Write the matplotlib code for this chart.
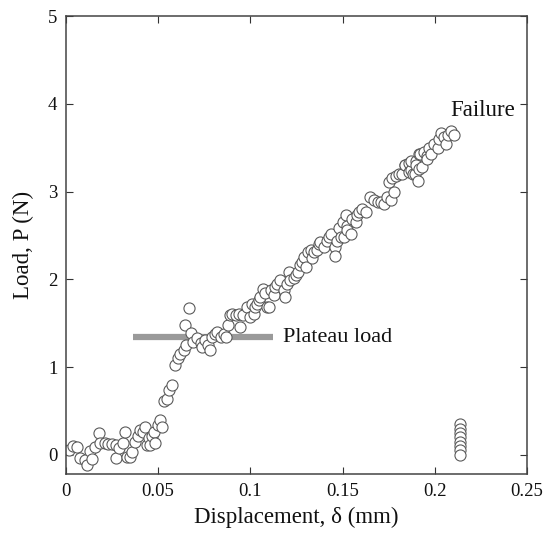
import matplotlib
matplotlib.use("Agg")
import matplotlib.pyplot as plt

plt.rcParams['font.family'] = ['Liberation Serif', 'DejaVu Serif']

disp = [0.0015, 0.004, 0.006, 0.0078, 0.0105, 0.0114, 0.013, 0.014, 0.016, 0.018,
        0.0185, 0.021, 0.023, 0.025, 0.027, 0.027, 0.029, 0.031, 0.032, 0.033,
        0.035, 0.036, 0.0375, 0.039, 0.040, 0.042, 0.043, 0.044, 0.045, 0.0458,
        0.0467, 0.0476, 0.0485, 0.050, 0.051, 0.052, 0.053, 0.055, 0.056, 0.0576,
        0.059, 0.061, 0.062, 0.064, 0.065, 0.0647, 0.0665, 0.068, 0.069, 0.071,
        0.073, 0.074, 0.0755, 0.077, 0.078, 0.079, 0.081, 0.082, 0.084, 0.0855,
        0.087, 0.088, 0.089, 0.090, 0.092, 0.0937, 0.0946, 0.096, 0.098, 0.100,
        0.101, 0.102, 0.1027, 0.1036, 0.1045, 0.105, 0.107, 0.108, 0.109, 0.110,
        0.111, 0.1127, 0.1136, 0.1145, 0.1163, 0.118, 0.119, 0.120, 0.121, 0.1217,
        0.1236, 0.1245, 0.126, 0.127, 0.128, 0.129, 0.130, 0.131, 0.1326, 0.1335,
        0.1344, 0.136, 0.137, 0.138, 0.140, 0.1417, 0.1426, 0.1435, 0.146, 0.146,
        0.147, 0.148, 0.149, 0.150, 0.1507, 0.1516, 0.1525, 0.1525, 0.1543, 0.155,
        0.157, 0.158, 0.159, 0.1607, 0.1625, 0.165, 0.167, 0.169, 0.1707, 0.1725,
        0.174, 0.175, 0.176, 0.177, 0.178, 0.179, 0.1806, 0.1824, 0.184, 0.184,
        0.186, 0.186, 0.187, 0.187, 0.188, 0.189, 0.190, 0.190, 0.1906, 0.1915,
        0.1915, 0.192, 0.193, 0.194, 0.196, 0.196, 0.197, 0.198, 0.1996, 0.2015,
        0.202, 0.2033, 0.205, 0.206, 0.207, 0.2087, 0.2105,
        0.2137, 0.2137, 0.2137, 0.2137, 0.2137, 0.2137, 0.2137, 0.2137]

load = [0.06, 0.10, 0.09, -0.04, -0.06, -0.12, 0.04, -0.05, 0.09, 0.25,
        0.14, 0.13, 0.12, 0.12, 0.11, -0.03, 0.08, 0.13, 0.26, -0.02,
        -0.02, 0.03, 0.15, 0.21, 0.28, 0.26, 0.32, 0.11, 0.19, 0.11,
        0.21, 0.26, 0.13, 0.34, 0.40, 0.32, 0.61, 0.64, 0.74, 0.80,
        1.02, 1.10, 1.15, 1.20, 1.25, 1.48, 1.67, 1.39, 1.29, 1.33,
        1.27, 1.23, 1.31, 1.25, 1.19, 1.34, 1.38, 1.40, 1.34, 1.38,
        1.34, 1.48, 1.59, 1.61, 1.59, 1.61, 1.46, 1.59, 1.69, 1.57,
        1.72, 1.61, 1.69, 1.72, 1.76, 1.80, 1.89, 1.84, 1.69, 1.69,
        1.875, 1.82, 1.91, 1.95, 1.99, 1.875, 1.80, 1.95, 2.08, 1.99,
        2.01, 2.05, 2.08, 2.16, 2.20, 2.25, 2.14, 2.31, 2.33, 2.24,
        2.31, 2.33, 2.40, 2.42, 2.37, 2.44, 2.48, 2.52, 2.37, 2.27,
        2.44, 2.59, 2.48, 2.65, 2.48, 2.73, 2.61, 2.56, 2.52, 2.69,
        2.65, 2.73, 2.77, 2.80, 2.77, 2.94, 2.90, 2.88, 2.88, 2.86,
        2.94, 3.11, 2.90, 3.16, 2.99, 3.18, 3.20, 3.20, 3.30, 3.30,
        3.33, 3.22, 3.24, 3.35, 3.20, 3.20, 3.35, 3.30, 3.125, 3.43,
        3.26, 3.43, 3.28, 3.45, 3.41, 3.37, 3.50, 3.43, 3.54, 3.50,
        3.60, 3.67, 3.62, 3.54, 3.64, 3.69, 3.65,
        0.35, 0.30, 0.25, 0.20, 0.15, 0.10, 0.05, 0.00]

plateau_x = [0.0364, 0.1125]
plateau_y = [1.34, 1.34]

fig = plt.figure(figsize=(5.44, 5.34), dpi=100)
ax = fig.add_axes([0.121, 0.112, 0.848, 0.858])

ax.plot(plateau_x, plateau_y, color='#9a9a9a', linewidth=4.5, solid_capstyle='butt', zorder=1)
ax.plot(disp, load, linestyle='none', marker='o', markersize=8,
        markerfacecolor='white', markeredgecolor='#5a5a5a', markeredgewidth=0.8, zorder=2)

ax.text(0.1175, 1.34, 'Plateau load', fontsize=16, va='center', ha='left', color='#111111')
ax.text(0.2082, 3.92, 'Failure', fontsize=16.5, va='center', ha='left', color='#111111')

ax.set_xlim(0, 0.25)
ax.set_ylim(-0.22, 5)
ax.set_xticks([0, 0.05, 0.1, 0.15, 0.2, 0.25])
ax.set_xticklabels(['0', '0.05', '0.1', '0.15', '0.2', '0.25'])
ax.set_yticks([0, 1, 2, 3, 4, 5])
ax.set_yticklabels(['0', '1', '2', '3', '4', '5'])
ax.tick_params(direction='in', length=5, width=0.8, top=True, right=True,
               labelsize=13.5, colors='#333333', labelcolor='#111111', pad=6)
for s in ax.spines.values():
    s.set_color('#444444')
    s.set_linewidth(1.1)

ax.set_xlabel('Displacement, δ (mm)', fontsize=16.5, labelpad=5, color='#111111')
ax.set_ylabel('Load, P (N)', fontsize=16.5, labelpad=10, color='#111111')

fig.savefig('out.png', dpi=100)
